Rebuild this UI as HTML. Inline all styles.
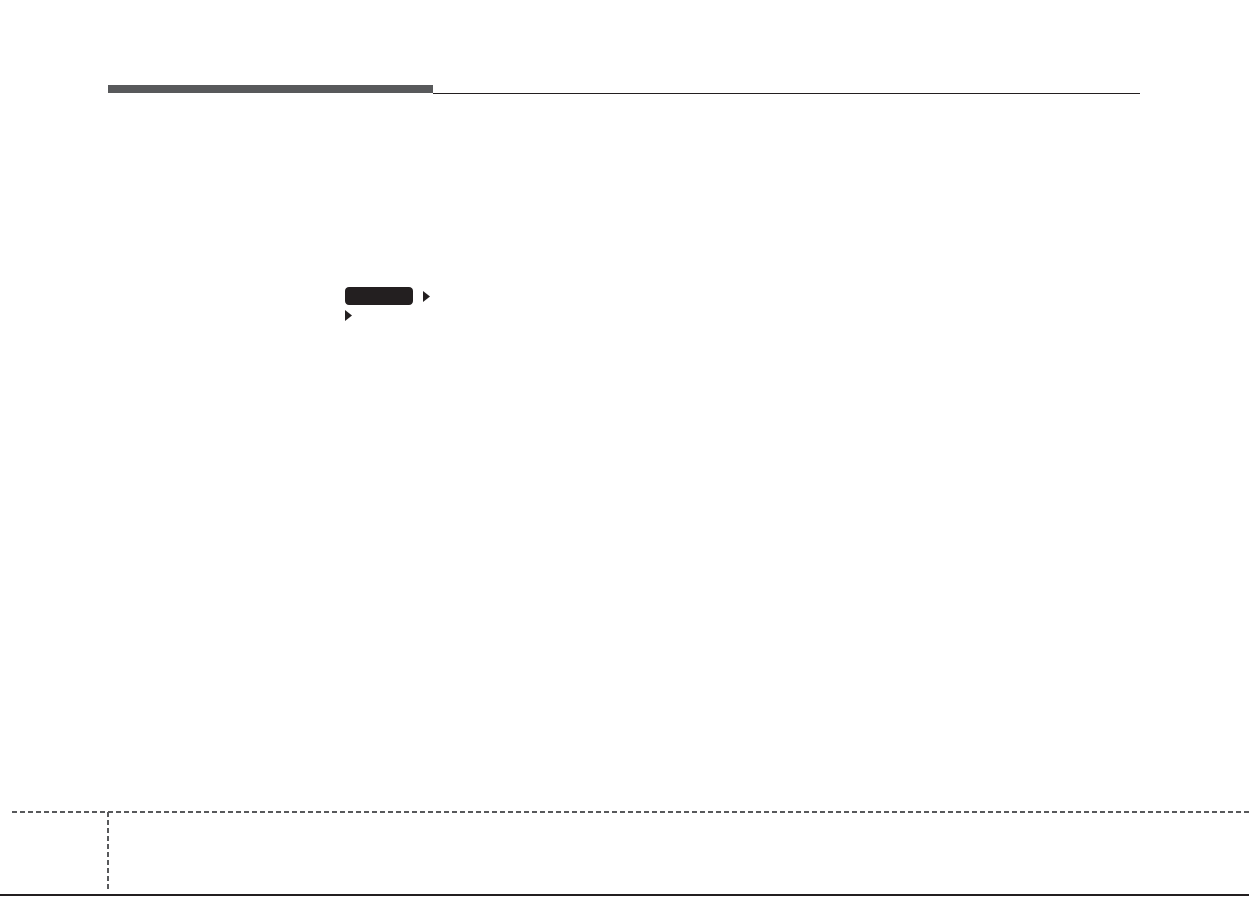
<!DOCTYPE html>
<html><head><meta charset="utf-8"><style>
html,body{margin:0;padding:0;background:#fff;}
body{width:1249px;height:897px;overflow:hidden;position:relative;}
</style></head><body>
<svg width="1249" height="897" style="position:absolute;left:0;top:0">
<rect x="108" y="85" width="325" height="8" fill="#58595b"/>
<line x1="433" y1="93.5" x2="1140" y2="93.5" stroke="#231f20" stroke-width="1"/>
<rect x="345" y="287" width="68" height="18" rx="4" fill="#231f20"/>
<polygon points="423,291 430,296.5 423,302" fill="#231f20"/>
<polygon points="345,310 352,315.5 345,321" fill="#231f20"/>
<line x1="12" y1="812" x2="1249" y2="812" stroke="#58595b" stroke-width="2" stroke-dasharray="5,3"/>
<line x1="108" y1="812" x2="108" y2="892" stroke="#58595b" stroke-width="2" stroke-dasharray="5,3"/>
<line x1="0" y1="895" x2="1249" y2="895" stroke="#231f20" stroke-width="2"/>
</svg>
</body></html>
